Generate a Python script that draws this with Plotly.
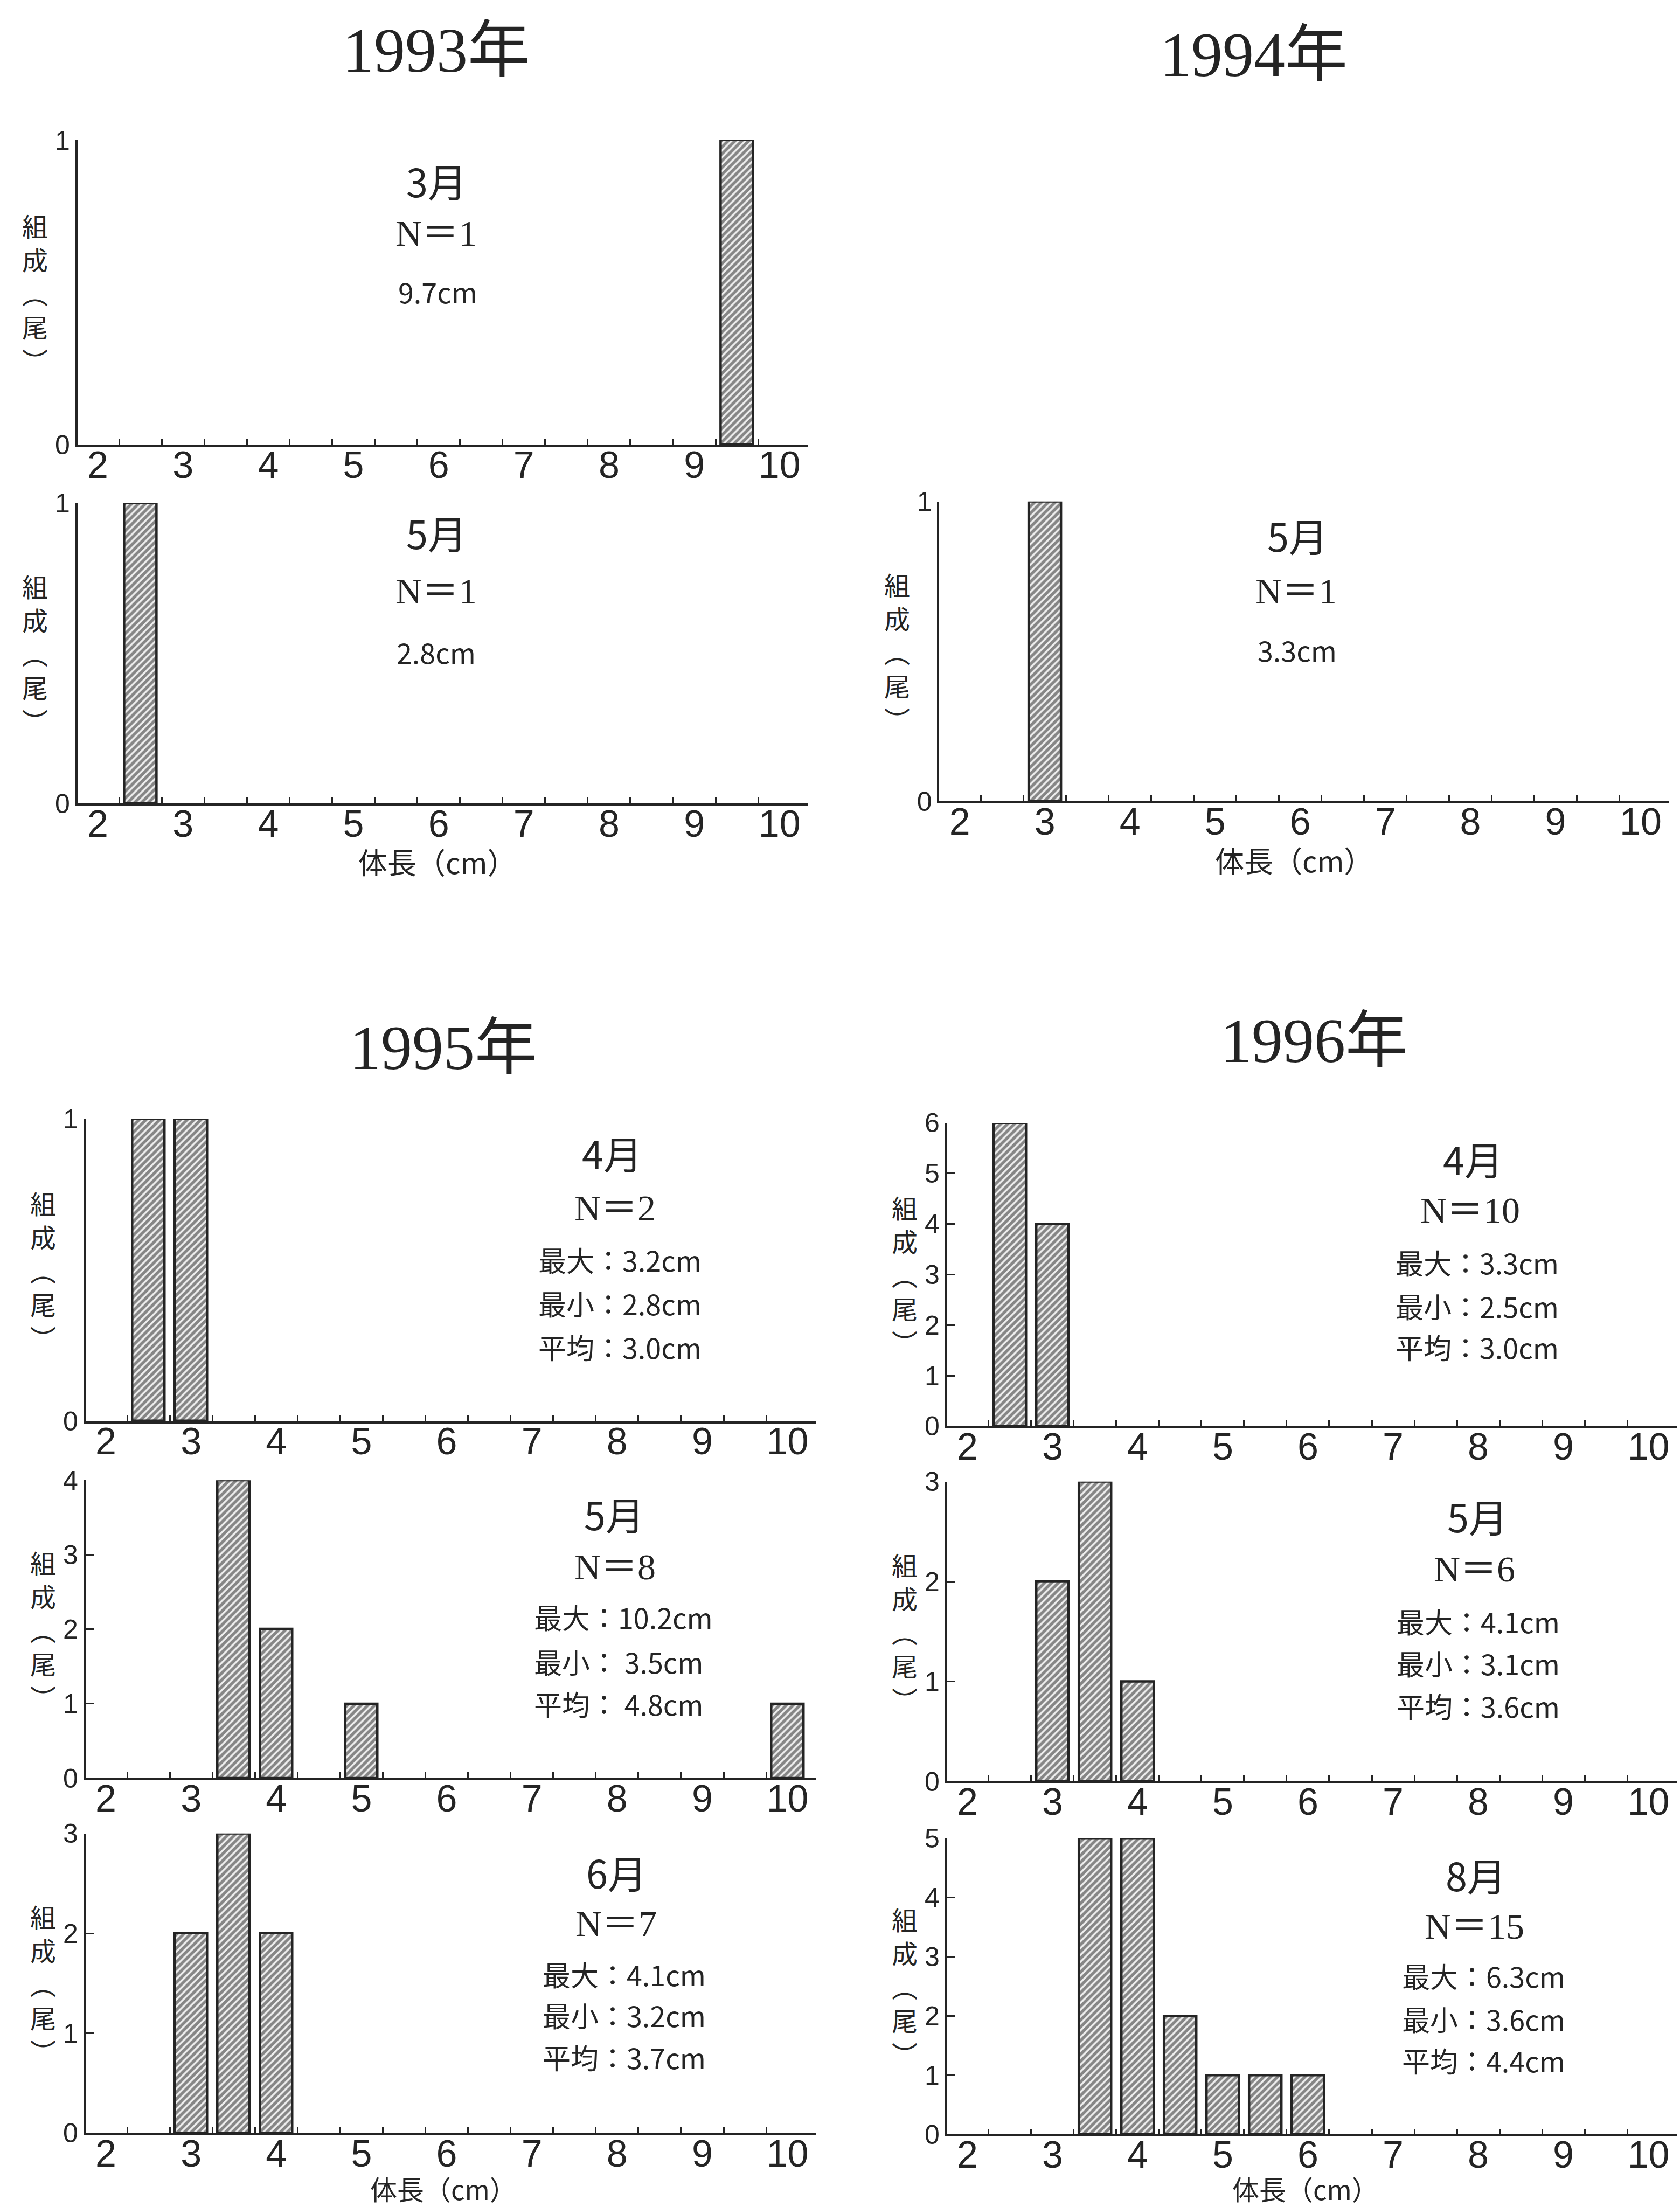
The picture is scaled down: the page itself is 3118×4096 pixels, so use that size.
import plotly.graph_objects as go

# ---------------- data ----------------
years = ["1993年", "1994年", "1995年", "1996年"]
x_tick_values = [2, 3, 4, 5, 6, 7, 8, 9, 10]
x_tick_labels = ["2", "3", "4", "5", "6", "7", "8", "9", "10"]
bin_edges = [2.25, 2.75, 3.25, 3.75, 4.25, 4.75, 5.25, 5.75, 6.25, 6.75,
             7.25, 7.75, 8.25, 8.75, 9.25, 9.75]

len_1993_mar = [9.5]
cnt_1993_mar = [1]
len_1993_may = [2.5]
cnt_1993_may = [1]
len_1994_may = [3.0]
cnt_1994_may = [1]
len_1995_apr = [2.5, 3.0]
cnt_1995_apr = [1, 1]
len_1995_may = [3.5, 4.0, 5.0, 10.0]
cnt_1995_may = [4, 2, 1, 1]
len_1995_jun = [3.0, 3.5, 4.0]
cnt_1995_jun = [2, 3, 2]
len_1996_apr = [2.5, 3.0]
cnt_1996_apr = [6, 4]
len_1996_may = [3.0, 3.5, 4.0]
cnt_1996_may = [2, 3, 1]
len_1996_aug = [3.5, 4.0, 4.5, 5.0, 5.5, 6.0]
cnt_1996_aug = [5, 5, 2, 1, 1, 1]

y_max = [1, 1, 1, 1, 4, 3, 6, 3, 5]
months = ["3月", "5月", "5月", "4月", "5月", "6月", "4月", "5月", "8月"]
n_labels = ["N＝1", "N＝1", "N＝1", "N＝2", "N＝8", "N＝7", "N＝10", "N＝6", "N＝15"]
stat_lines = [
    ["9.7cm"],
    ["2.8cm"],
    ["3.3cm"],
    ["最大：3.2cm", "最小：2.8cm", "平均：3.0cm"],
    ["最大：10.2cm", "最小： 3.5cm", "平均： 4.8cm"],
    ["最大：4.1cm", "最小：3.2cm", "平均：3.7cm"],
    ["最大：3.3cm", "最小：2.5cm", "平均：3.0cm"],
    ["最大：4.1cm", "最小：3.1cm", "平均：3.6cm"],
    ["最大：6.3cm", "最小：3.6cm", "平均：4.4cm"],
]
y_title_chars = ["組", "成", "︵", "尾", "︶"]
x_title = "体長（cm）"

lengths = [len_1993_mar, len_1993_may, len_1994_may, len_1995_apr, len_1995_may,
           len_1995_jun, len_1996_apr, len_1996_may, len_1996_aug]
counts = [cnt_1993_mar, cnt_1993_may, cnt_1994_may, cnt_1995_apr, cnt_1995_may,
          cnt_1995_jun, cnt_1996_apr, cnt_1996_may, cnt_1996_aug]

# ---------------- layout geometry (reference coords at 1194x1568) ----------------
W, H = 3118, 4096
S = W / 1194.0
X_RANGE = [1.76, 10.33]

# (spine x, axis end x, top y, bottom y)
boxes = [
    (55, 574, 99.6, 316),
    (55, 574, 357.6, 571),
    (667.6, 1186, 356.4, 569.5),
    (60.7, 579.7, 795, 1010),
    (60.7, 579.7, 1052, 1263.7),
    (60.7, 579.7, 1303, 1516),
    (673, 1191.6, 798, 1013.6),
    (673, 1191.6, 1053, 1266),
    (673, 1191.6, 1306.4, 1517),
]
month_pos = [(310, 128), (310, 378), (922, 380), (435, 819), (436.6, 1075.6),
             (438, 1330), (1047, 823), (1050, 1077), (1048.7, 1332)]
n_pos = [(310, 166), (310, 420), (921, 420), (437, 858.6), (437, 1113.6),
         (438, 1367), (1045, 860), (1048, 1115), (1048, 1369)]
stat_x = [311, 310, 922, 381.6, 378.8, 385, 991, 992, 995.6]
stat_y = [[207], [463], [461.5], [895, 926, 957], [1149, 1180.6, 1210.6],
          [1403, 1432, 1462], [897, 928, 957], [1152, 1182, 1212], [1404, 1434.5, 1464]]
year_pos = [(310, 36), (891, 39), (315, 745), (934, 740)]
xtitle_pos = [(311, 612), (920, 611), (315, 1555), (928, 1555)]

INK = "#242424"
CJK = "Noto Sans CJK JP"
SERIF = "Liberation Serif, Noto Sans CJK JP"
SANS = "Liberation Sans, Noto Sans CJK JP"


def px(x, y):
    return x * S / W, 1 - y * S / H


fig = go.Figure()
layout = dict(
    width=W, height=H, autosize=False,
    margin=dict(l=0, r=0, t=0, b=0, pad=0, autoexpand=False),
    paper_bgcolor="white", plot_bgcolor="rgba(0,0,0,0)",
    showlegend=False,
    bargap=0,
)
annotations = []

for i in range(9):
    k = "" if i == 0 else str(i + 1)
    x0, x1, yt, yb = boxes[i]
    fig.add_trace(go.Bar(
        x=lengths[i], y=counts[i], width=0.38,
        xaxis="x" + k, yaxis="y" + k,
        marker=dict(
            color="white",
            line=dict(color=INK, width=4.5),
            pattern=dict(shape="/", fgcolor="#1e1e1e", bgcolor="#eeeeee",
                         size=9, solidity=0.6),
        ),
        cliponaxis=False, hoverinfo="skip",
    ))
    layout["xaxis" + k] = dict(
        domain=[x0 * S / W, x1 * S / W], range=X_RANGE, anchor="y" + k,
        automargin=False,
        showline=True, linecolor=INK, linewidth=3.5,
        showgrid=False, zeroline=False,
        ticks="", tickmode="array", tickvals=x_tick_values, ticktext=x_tick_labels,
        tickfont=dict(family=SANS, size=70, color=INK),
        ticklabelstandoff=-26,
        minor=dict(tickvals=bin_edges, ticks="inside", ticklen=11,
                   tickwidth=3, tickcolor=INK, showgrid=False),
        fixedrange=True,
    )
    layout["yaxis" + k] = dict(
        domain=[1 - yb * S / H, 1 - yt * S / H], range=[0, y_max[i]], anchor="x" + k,
        automargin=False,
        showline=True, linecolor=INK, linewidth=3.5,
        showgrid=False, zeroline=False,
        ticks="inside", ticklen=16, tickwidth=3, tickcolor=INK,
        tickmode="array", tickvals=list(range(y_max[i] + 1)),
        tickfont=dict(family=SANS, size=50, color=INK),
        fixedrange=True,
    )
    # y-axis title (vertical, one character per line)
    ax, ay = px(x0 - 30, (yt + yb) / 2)
    annotations.append(dict(x=ax, y=ay, xref="paper", yref="paper",
                            text="<br>".join(y_title_chars),
                            showarrow=False, xanchor="center", yanchor="middle",
                            align="center",
                            font=dict(family=CJK, size=48, color=INK)))
    # month
    ax, ay = px(*month_pos[i])
    annotations.append(dict(x=ax, y=ay, xref="paper", yref="paper", text=months[i],
                            showarrow=False, xanchor="center", yanchor="middle",
                            font=dict(family=CJK, size=72, color=INK)))
    ax, ay = px(*n_pos[i])
    annotations.append(dict(x=ax, y=ay, xref="paper", yref="paper", text=n_labels[i],
                            showarrow=False, xanchor="center", yanchor="middle",
                            font=dict(family=SERIF, size=68, color=INK)))
    single = len(stat_lines[i]) == 1
    for line, sy in zip(stat_lines[i], stat_y[i]):
        ax, ay = px(stat_x[i], sy)
        annotations.append(dict(x=ax, y=ay, xref="paper", yref="paper", text=line,
                                showarrow=False,
                                xanchor="center" if single else "left",
                                yanchor="middle",
                                font=dict(family=CJK, size=52, color=INK)))

for (yx, yy), t in zip(year_pos, years):
    ax, ay = px(yx, yy)
    annotations.append(dict(x=ax, y=ay, xref="paper", yref="paper", text=t,
                            showarrow=False, xanchor="center", yanchor="middle",
                            font=dict(family=SERIF, size=116, color=INK)))
for j, (tx, ty) in enumerate(xtitle_pos):
    ax, ay = px(tx, ty)
    annotations.append(dict(x=ax, y=ay, xref="paper", yref="paper", text=x_title,
                            showarrow=False, xanchor="center", yanchor="middle",
                            font=dict(family=CJK, size=54 if j < 2 else 50, color=INK)))

layout["annotations"] = annotations
fig.update_layout(**layout)
fig.write_html("out.html",
               config={"displayModeBar": False},
               post_script="document.body.style.margin='0';document.body.style.overflow='hidden';")
